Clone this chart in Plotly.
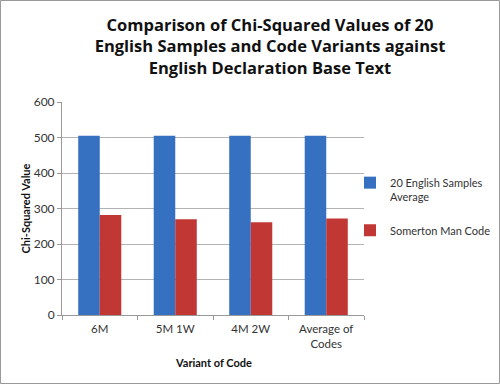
import plotly.graph_objects as go

categories = ["6M", "5M 1W", "4M 2W", "Average of<br>Codes"]
english_avg = [505, 505, 505, 505]
somerton = [282, 270, 261, 272]
series_names = ["20 English Samples<br>Average", "Somerton Man Code"]
x_title = "Variant of Code"
y_title = "Chi-Squared Value"

FONT = "Lato, 'Open Sans', sans-serif"

L, R, T, B = 62, 136, 102, 69
PW, PH = 500 - L - R, 384 - T - B

fig = go.Figure()
fig.add_trace(go.Bar(x=categories, y=english_avg, name=series_names[0], legendgroup="a",
                     marker=dict(color="#3571c0", line=dict(width=0))))
fig.add_trace(go.Bar(x=categories, y=somerton, name=series_names[1], legendgroup="b",
                     marker=dict(color="#c03734", line=dict(width=0))))

fig.update_layout(
    width=500, height=384,
    margin=dict(l=L, r=R, t=T, b=B, autoexpand=False),
    paper_bgcolor="white", plot_bgcolor="white",
    barmode="group", bargap=0.43, bargroupgap=0,
    font=dict(family=FONT, size=12, color="#333333"),
    title=dict(text="Comparison of Chi-Squared Values of 20<br>English Samples and Code Variants against<br>English Declaration Base Text",
               font=dict(family="'Open Sans', sans-serif", size=16.5, color="#111111", weight="bold"),
               xref="container", yref="container",
               x=0.54, xanchor="center", y=1 - 31 / 384, yanchor="top"),
    legend=dict(xref="container", yref="container", x=0.70, y=1 - 169 / 384,
                xanchor="left", yanchor="top", valign="top", traceorder="grouped",
                font=dict(size=11, color="#333333"), itemwidth=30,
                tracegroupgap=16, bgcolor="rgba(0,0,0,0)"),
    showlegend=True,
    shapes=[dict(type="rect", xref="paper", yref="paper",
                 x0=(-L + 0.5) / PW, x1=(500 - L - 0.5) / PW,
                 y0=-(B - 0.5) / PH, y1=(PH + T - 0.5) / PH,
                 line=dict(color="#999999", width=1))],
    annotations=[
        dict(text=f"<b>{y_title}</b>", xref="paper", yref="paper", x=(25 - L) / PW, y=0.5,
             textangle=-90, showarrow=False, xanchor="center", yanchor="middle",
             font=dict(size=11, color="#111111")),
        dict(text=f"<b>{x_title}</b>", xref="paper", yref="paper", x=0.5, y=-(362 - T - PH) / PH,
             showarrow=False, xanchor="center", yanchor="middle",
             font=dict(size=11, color="#111111")),
    ],
)
fig.update_yaxes(range=[0, 600], dtick=100, showgrid=True, gridcolor="#b3b3b3", gridwidth=1,
                 showline=True, linecolor="#999999", ticks="outside", ticklen=4, tickcolor="#999999",
                 tickfont=dict(size=12, color="#333333"), zeroline=False, automargin=False)
fig.update_xaxes(showline=True, linecolor="#999999", ticks="outside", ticklen=4, tickcolor="#999999",
                 tickson="boundaries", tickfont=dict(size=11.5, color="#333333"), automargin=False,
                 ticklabelstandoff=3)

fig.write_html("out.html", config={"displayModeBar": False},
               post_script="document.body.style.margin='0';")
